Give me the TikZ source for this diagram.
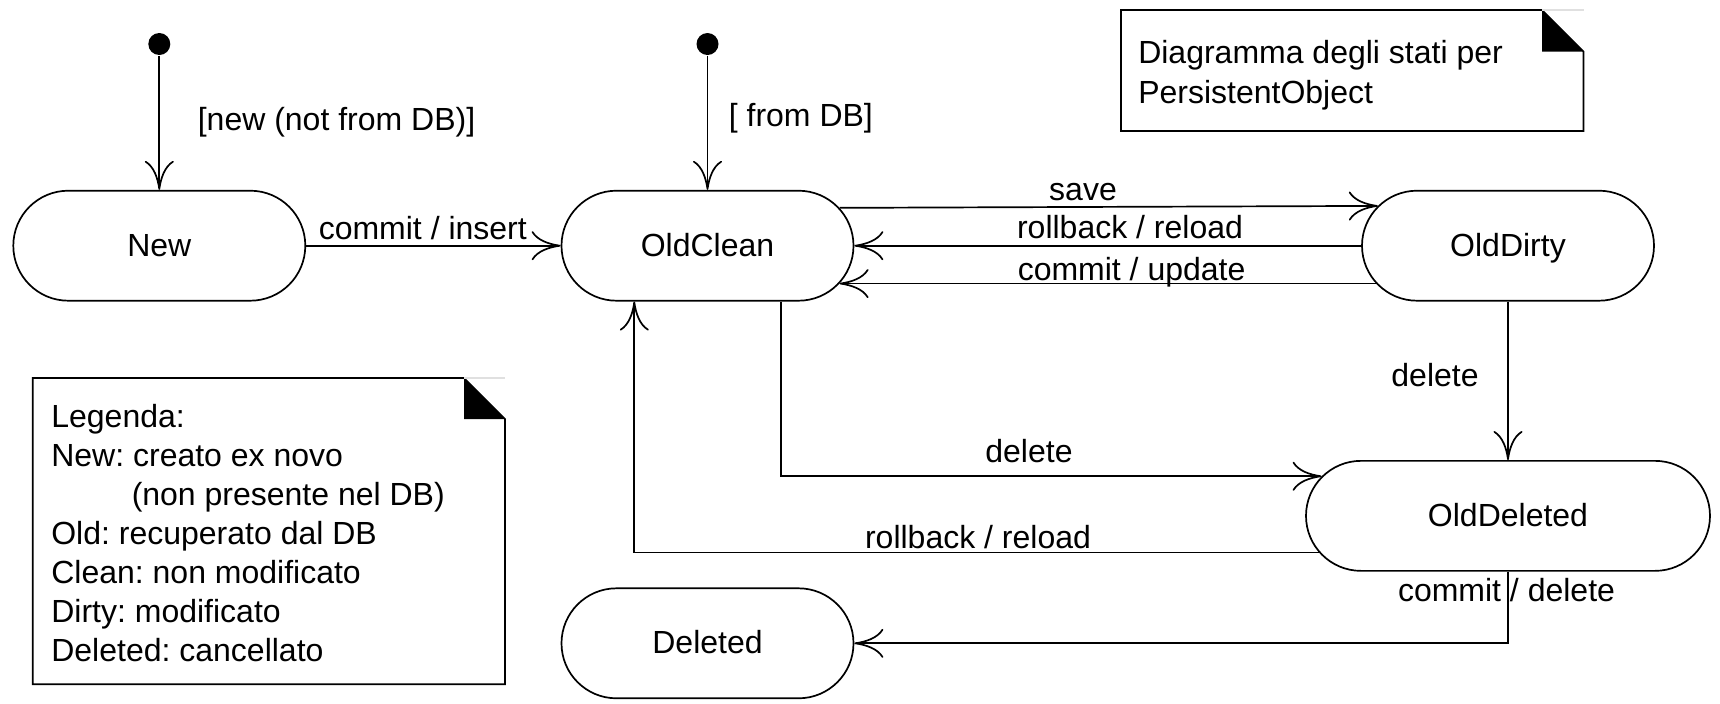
\documentclass[tikz,border=0pt]{standalone}
\usepackage{fontspec}
\setmainfont{Liberation Sans}
\usetikzlibrary{arrows.meta,shapes.misc}
\frenchspacing
\begin{document}
\begin{tikzpicture}[x=0.5pt,y=-0.5pt,
  line width=0.85pt,
  every node/.style={font=\fontsize{16pt}{19.5pt}\selectfont\frenchspacing},
  stbox/.style={draw, rounded rectangle, minimum width=146pt, minimum height=55pt,
    inner sep=0pt, text height=10.5pt, text depth=0pt},
  lbl/.style={inner sep=0pt, anchor=base},
  txt/.style={inner sep=0pt, anchor=base west},
  init/.style={circle, fill=black, minimum size=11pt, inner sep=0pt},
  tr/.style={-{Computer Modern Rightarrow[length=14.5pt,width=14.5pt]}},
  faint/.style={black!12, line width=0.6pt},
]
\useasboundingbox (0,0) rectangle (1720,703);

% states
\node[init] (i1) at (159.3,44) {};
\node[init] (i2) at (707.5,44) {};
\node[stbox] (new) at (159.3,245.7) {New};
\node[stbox] (oc) at (707.5,245.7) {OldClean};
\node[stbox] (od) at (1508,245.7) {OldDirty};
\node[stbox, minimum width=202pt] (odel) at (1508,515.85) {OldDeleted};
\node[stbox] (del) at (707.5,643.3) {Deleted};

% transitions
\draw[tr] (i1) -- (new.north);
\draw[tr] (i2) -- (oc.north);
\draw[tr] (new.east) -- (oc.west);
\draw[tr] (oc.16.73) -- (od.163.27);
\draw[tr] (od.west) -- (oc.east);
\draw[tr] (od.196.73) -- (oc.-16.73);
\draw[tr] (od.south) -- (odel.north);
\draw[tr] ([xshift=36.6pt]oc.south) |- (odel.168.14);
\draw[tr] (odel.191.86) -| ([xshift=-36.6pt]oc.south);
\draw[tr] (odel.south) |- (del.east);

% labels
\node[txt] (l1) at (197,130) {[new (not from DB)]};
\node[txt] (l2) at (728,126.7) {[ from DB]};
\node[lbl] (l3) at (422.8,239) {commit / insert};
\node[lbl] (l4) at (1083,200) {save};
\node[lbl] (l5) at (1130,238.3) {rollback / reload};
\node[lbl] (l6) at (1131.6,280) {commit / update};
\node[lbl] (l7) at (1435,386) {delete};
\node[lbl] (l8) at (1029,462) {delete};
\node[lbl] (l9) at (978,548) {rollback / reload};
\node[lbl] (l10) at (1506.5,601.5) {commit / delete};

% note: title
\draw (1121,10) -- (1542,10) -- (1583.5,51.5) -- (1583.5,131) -- (1121,131) -- cycle;
\fill (1542,10) -- (1583.5,51.5) -- (1542,51.5) -- cycle;
\draw[faint] (1542,10) -- (1583.5,10);
\node[txt] (n1) at (1137.4,63) {Diagramma degli stati per};
\node[txt] (n2) at (1137.4,103) {PersistentObject};

% note: legend
\draw (32.7,378) -- (464,378) -- (505,419) -- (505,684.3) -- (32.7,684.3) -- cycle;
\fill (464,378) -- (505,419) -- (464,419) -- cycle;
\draw[faint] (464,378) -- (505,378);
\node[txt] (g1) at (50.5,427) {Legenda:};
\node[txt] (g2) at (50.5,466) {New: creato ex novo};
\node[txt] (g3) at (130.9,505) {(non presente nel DB)};
\node[txt] (g4) at (50.5,544) {Old: recuperato dal DB};
\node[txt] (g5) at (50.5,583) {Clean: non modificato};
\node[txt] (g6) at (50.5,622) {Dirty: modificato};
\node[txt] (g7) at (50.5,661) {Deleted: cancellato};
\end{tikzpicture}
\end{document}
